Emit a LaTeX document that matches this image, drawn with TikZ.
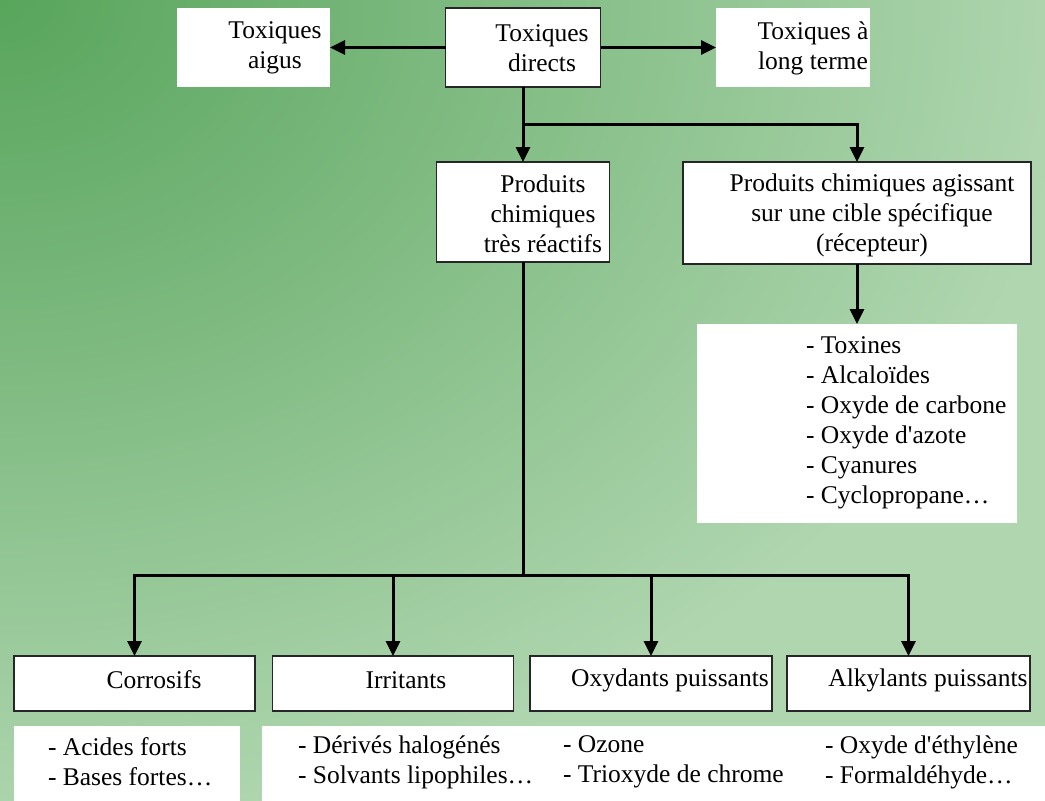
\documentclass[tikz,border=0pt]{standalone}
\usepackage{fontspec}
\setmainfont{Liberation Serif}
\newfontfamily\boxfont{Liberation Serif}
\usetikzlibrary{arrows.meta}
\definecolor{bgdark}{RGB}{88,165,92}
\definecolor{bglight}{RGB}{176,214,176}
\begin{document}
\begin{tikzpicture}[x=1pt,y=-1pt,
  every node/.style={font=\boxfont\fontsize{25.5}{30}\selectfont, inner sep=0pt, outer sep=0pt},
  framebox/.style 2 args={draw=black!85, line width=1.1pt, fill=white,
    minimum width=#1, minimum height=#2},
  plainbox/.style 2 args={fill=white, minimum width=#1, minimum height=#2},
  txt/.style={align=center},
  listtxt/.style={align=left, anchor=west},
  link/.style={line width=3pt},
  arr/.style={line width=3pt, -{Triangle[length=15pt,width=14pt]}}
]
% canvas and background gradient (dark in the upper left corner)
\useasboundingbox (0,0) rectangle (1045,801);
\fill[bglight] (0,0) rectangle (1045,801);
\begin{scope}
  \clip (0,0) rectangle (1045,801);
  \shade[inner color=bgdark, outer color=bglight] (0,0) ellipse [x radius=1080, y radius=840];
\end{scope}

% top row
\node[plainbox={153}{79}] (aigus) at (253.5,47.5) {};
\node[framebox={155}{79}] (directs) at (523,47.5) {};
\node[plainbox={154}{79}] (longt) at (793,47.5) {};
\node[txt] (taigus) at (275,48) {Toxiques\\aigus};
\node[txt] (tdirects) at (542,48) {Toxiques\\directs};
\node[txt] (tlongt) at (813,48) {Toxiques à\\long terme};

% second row
\node[framebox={173}{100}] (reactifs) at (523,212) {};
\node[framebox={348}{102}] (cible) at (857,213) {};
\node[txt] (treactifs) at (543,214) {Produits\\chimiques\\très réactifs};
\node[txt] (tcible) at (872,215) {Produits chimiques agissant\\sur une cible spécifique\\(récepteur)};

% receptor examples
\node[plainbox={320}{199}] (liste) at (857,423.5) {};
\node[listtxt] (tliste) at (806,423) {- Toxines\\- Alcaloïdes\\- Oxyde de carbone\\- Oxyde d'azote\\- Cyanures\\- Cyclopropane…};

% reactive families
\node[framebox={241}{55}] (corr) at (134.5,683.5) {};
\node[framebox={241}{55}] (irr) at (393,683.5) {};
\node[framebox={242}{55}] (oxy) at (651,683.5) {};
\node[framebox={243}{55}] (alk) at (908.5,683.5) {};
\node (tcorr) at (154,680) {Corrosifs};
\node (tirr) at (406,680) {Irritants};
\node (toxy) at (670,680) {Oxydants puissants};
\node (talk) at (928,680) {Alkylants puissants};

% examples under the families
\node[plainbox={226}{76}] (exleft) at (127,764) {};
\node[plainbox={783}{76}] (exright) at (653.5,764) {};
\node[listtxt] (excorr) at (48,762) {- Acides forts\\- Bases fortes…};
\node[listtxt] (exirr) at (298,762) {- Dérivés halogénés\\- Solvants lipophiles…};
\node[listtxt] (exoxy) at (563,762) {- Ozone\\- Trioxyde de chrome};
\node[listtxt] (exalk) at (825,762) {- Oxyde d'éthylène\\- Formaldéhyde…};

% connectors
\coordinate (split) at (523,124);
\coordinate (hub) at (523,575);
\draw[arr] (directs.west) -- (aigus.east);
\draw[arr] (directs.east) -- (longt.west);
\draw[arr] (directs.south) -- (reactifs.north);
\draw[arr] (split) -| (cible.north);
\draw[arr] (cible.south) -- (liste.north);
\draw[link] (reactifs.south) -- (hub);
\draw[arr] (hub) -| (corr.north);
\draw[arr] (hub) -| (irr.north);
\draw[arr] (hub) -| (oxy.north);
\draw[arr] (hub) -| (alk.north);
\end{tikzpicture}
\end{document}
